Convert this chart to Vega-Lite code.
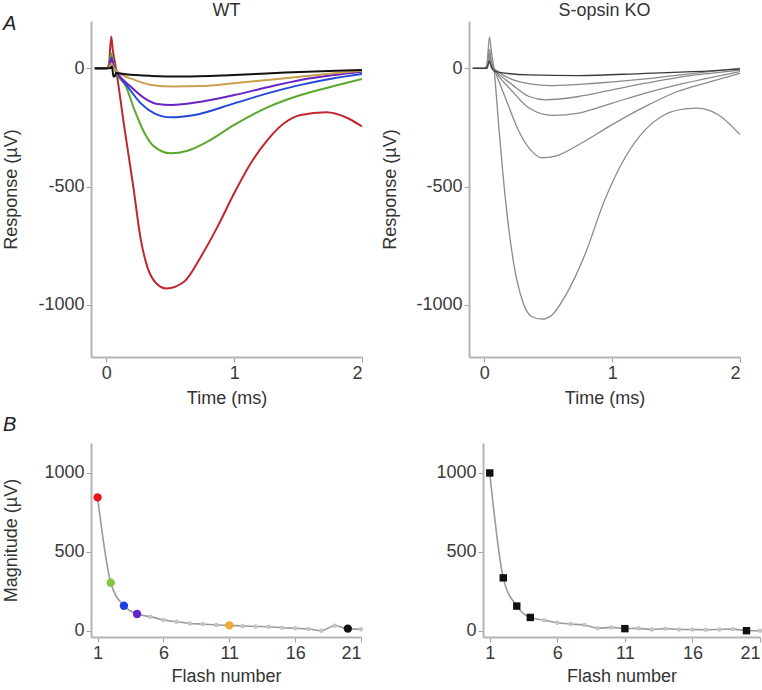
{
  "$schema": "https://vega.github.io/schema/vega-lite/v6.json",
  "padding": {"left": 2, "top": 2, "right": 0, "bottom": 0},
  "config": {
    "font": "Liberation Sans",
    "view": {"stroke": null},
    "axis": {
      "grid": false,
      "domainColor": "#b4b4b4",
      "domainWidth": 2,
      "tickColor": "#a0a0a0",
      "tickSize": 5,
      "tickWidth": 1,
      "labelFontSize": 18,
      "titleFontSize": 18,
      "labelColor": "#3a3a3a",
      "titleColor": "#333333",
      "titleFontWeight": "normal",
      "labelFont": "Liberation Sans",
      "titleFont": "Liberation Sans",
      "labelPadding": 2,
      "labelOverlap": false
    },
    "title": {"fontSize": 18, "fontWeight": "normal", "color": "#333333", "font": "Liberation Sans"}
  },
  "datasets": {
    "a_wt": [
      {"s":"1","t":-0.09,"v":0},{"s":"1","t":0,"v":0},{"s":"1","t":0.02,"v":15},{"s":"1","t":0.038,"v":135},{"s":"1","t":0.05,"v":80},{"s":"1","t":0.075,"v":0},{"s":"1","t":0.14,"v":-246},{"s":"1","t":0.21,"v":-497},{"s":"1","t":0.27,"v":-725},{"s":"1","t":0.32,"v":-838},{"s":"1","t":0.39,"v":-908},{"s":"1","t":0.47,"v":-930},{"s":"1","t":0.61,"v":-901},{"s":"1","t":0.74,"v":-796},{"s":"1","t":0.87,"v":-669},{"s":"1","t":1.0,"v":-528},{"s":"1","t":1.13,"v":-401},{"s":"1","t":1.26,"v":-303},{"s":"1","t":1.39,"v":-232},{"s":"1","t":1.52,"v":-197},{"s":"1","t":1.72,"v":-186},{"s":"1","t":1.89,"v":-211},{"s":"1","t":2.0,"v":-246},
      {"s":"2","t":-0.09,"v":0},{"s":"2","t":0,"v":0},{"s":"2","t":0.02,"v":8},{"s":"2","t":0.04,"v":63},{"s":"2","t":0.055,"v":25},{"s":"2","t":0.075,"v":-14},{"s":"2","t":0.154,"v":-77},{"s":"2","t":0.22,"v":-176},{"s":"2","t":0.3,"v":-275},{"s":"2","t":0.375,"v":-331},{"s":"2","t":0.505,"v":-359},{"s":"2","t":0.635,"v":-348},{"s":"2","t":0.79,"v":-310},{"s":"2","t":1.0,"v":-239},{"s":"2","t":1.26,"v":-165},{"s":"2","t":1.52,"v":-113},{"s":"2","t":1.78,"v":-75},{"s":"2","t":2.0,"v":-45},
      {"s":"3","t":-0.09,"v":0},{"s":"3","t":0,"v":0},{"s":"3","t":0.02,"v":5},{"s":"3","t":0.04,"v":45},{"s":"3","t":0.055,"v":15},{"s":"3","t":0.075,"v":-10},{"s":"3","t":0.167,"v":-77},{"s":"3","t":0.27,"v":-148},{"s":"3","t":0.375,"v":-190},{"s":"3","t":0.505,"v":-207},{"s":"3","t":0.69,"v":-197},{"s":"3","t":1.0,"v":-148},{"s":"3","t":1.26,"v":-106},{"s":"3","t":1.52,"v":-70},{"s":"3","t":1.78,"v":-42},{"s":"3","t":2.0,"v":-24},
      {"s":"4","t":-0.09,"v":0},{"s":"4","t":0,"v":0},{"s":"4","t":0.02,"v":5},{"s":"4","t":0.04,"v":40},{"s":"4","t":0.055,"v":12},{"s":"4","t":0.08,"v":-14},{"s":"4","t":0.19,"v":-77},{"s":"4","t":0.3,"v":-127},{"s":"4","t":0.4,"v":-151},{"s":"4","t":0.505,"v":-155},{"s":"4","t":0.74,"v":-141},{"s":"4","t":1.0,"v":-113},{"s":"4","t":1.26,"v":-80},{"s":"4","t":1.52,"v":-49},{"s":"4","t":1.78,"v":-28},{"s":"4","t":2.0,"v":-14},
      {"s":"11","t":-0.09,"v":0},{"s":"11","t":0,"v":0},{"s":"11","t":0.02,"v":3},{"s":"11","t":0.04,"v":20},{"s":"11","t":0.055,"v":5},{"s":"11","t":0.08,"v":-10},{"s":"11","t":0.22,"v":-49},{"s":"11","t":0.35,"v":-70},{"s":"11","t":0.53,"v":-77},{"s":"11","t":0.74,"v":-75},{"s":"11","t":1.0,"v":-63},{"s":"11","t":1.26,"v":-49},{"s":"11","t":1.52,"v":-35},{"s":"11","t":1.78,"v":-21},{"s":"11","t":2.0,"v":-10},
      {"s":"20","t":-0.09,"v":0},{"s":"20","t":0.03,"v":0},{"s":"20","t":0.045,"v":8},{"s":"20","t":0.055,"v":-35},{"s":"20","t":0.065,"v":-35},{"s":"20","t":0.075,"v":-20},{"s":"20","t":0.15,"v":-25},{"s":"20","t":0.35,"v":-32},{"s":"20","t":0.6,"v":-35},{"s":"20","t":1.0,"v":-28},{"s":"20","t":1.4,"v":-18},{"s":"20","t":1.8,"v":-10},{"s":"20","t":2.0,"v":-7}
    ],
    "a_ko": [
      {"s":"1","t":-0.09,"v":0},{"s":"1","t":0,"v":0},{"s":"1","t":0.02,"v":15},{"s":"1","t":0.04,"v":133},{"s":"1","t":0.055,"v":70},{"s":"1","t":0.075,"v":0},{"s":"1","t":0.114,"v":-252},{"s":"1","t":0.166,"v":-559},{"s":"1","t":0.23,"v":-825},{"s":"1","t":0.296,"v":-979},{"s":"1","t":0.37,"v":-1049},{"s":"1","t":0.45,"v":-1060},{"s":"1","t":0.53,"v":-1042},{"s":"1","t":0.63,"v":-965},{"s":"1","t":0.79,"v":-783},{"s":"1","t":0.94,"v":-559},{"s":"1","t":1.1,"v":-378},{"s":"1","t":1.26,"v":-259},{"s":"1","t":1.41,"v":-196},{"s":"1","t":1.57,"v":-171},{"s":"1","t":1.67,"v":-168},{"s":"1","t":1.83,"v":-196},{"s":"1","t":2.0,"v":-280},
      {"s":"2","t":-0.09,"v":0},{"s":"2","t":0,"v":0},{"s":"2","t":0.02,"v":10},{"s":"2","t":0.04,"v":80},{"s":"2","t":0.055,"v":30},{"s":"2","t":0.075,"v":0},{"s":"2","t":0.166,"v":-126},{"s":"2","t":0.27,"v":-266},{"s":"2","t":0.37,"v":-350},{"s":"2","t":0.45,"v":-378},{"s":"2","t":0.555,"v":-371},{"s":"2","t":0.74,"v":-322},{"s":"2","t":1.0,"v":-238},{"s":"2","t":1.26,"v":-161},{"s":"2","t":1.51,"v":-98},{"s":"2","t":1.77,"v":-56},{"s":"2","t":2.0,"v":-21},
      {"s":"3","t":-0.09,"v":0},{"s":"3","t":0,"v":0},{"s":"3","t":0.02,"v":8},{"s":"3","t":0.04,"v":60},{"s":"3","t":0.055,"v":20},{"s":"3","t":0.09,"v":-14},{"s":"3","t":0.22,"v":-98},{"s":"3","t":0.35,"v":-168},{"s":"3","t":0.53,"v":-199},{"s":"3","t":0.74,"v":-189},{"s":"3","t":1.0,"v":-147},{"s":"3","t":1.26,"v":-105},{"s":"3","t":1.51,"v":-70},{"s":"3","t":1.77,"v":-39},{"s":"3","t":2.0,"v":-14},
      {"s":"4","t":-0.09,"v":0},{"s":"4","t":0,"v":0},{"s":"4","t":0.02,"v":6},{"s":"4","t":0.04,"v":50},{"s":"4","t":0.055,"v":15},{"s":"4","t":0.09,"v":-10},{"s":"4","t":0.22,"v":-70},{"s":"4","t":0.35,"v":-119},{"s":"4","t":0.48,"v":-133},{"s":"4","t":0.74,"v":-119},{"s":"4","t":1.0,"v":-91},{"s":"4","t":1.26,"v":-63},{"s":"4","t":1.51,"v":-39},{"s":"4","t":1.77,"v":-21},{"s":"4","t":2.0,"v":-7},
      {"s":"11","t":-0.09,"v":0},{"s":"11","t":0,"v":0},{"s":"11","t":0.02,"v":5},{"s":"11","t":0.04,"v":40},{"s":"11","t":0.055,"v":10},{"s":"11","t":0.09,"v":-7},{"s":"11","t":0.27,"v":-56},{"s":"11","t":0.53,"v":-73},{"s":"11","t":0.87,"v":-63},{"s":"11","t":1.26,"v":-45},{"s":"11","t":1.64,"v":-21},{"s":"11","t":2.0,"v":0},
      {"s":"20","t":-0.09,"v":0},{"s":"20","t":0.02,"v":0},{"s":"20","t":0.04,"v":30},{"s":"20","t":0.055,"v":5},{"s":"20","t":0.09,"v":-14},{"s":"20","t":0.35,"v":-28},{"s":"20","t":0.74,"v":-31},{"s":"20","t":1.26,"v":-21},{"s":"20","t":1.77,"v":-11},{"s":"20","t":2.0,"v":-3}
    ],
    "b_wt": [
      {"f":1,"m":845,"c":"1"},{"f":2,"m":304,"c":"2"},{"f":3,"m":158,"c":"3"},{"f":4,"m":106,"c":"4"},{"f":5,"m":89},{"f":6,"m":68},{"f":7,"m":57},{"f":8,"m":46},{"f":9,"m":42},{"f":10,"m":36},{"f":11,"m":34,"c":"11"},{"f":12,"m":30},{"f":13,"m":27},{"f":14,"m":25},{"f":15,"m":19},{"f":16,"m":15},{"f":17,"m":11},{"f":18,"m":0},{"f":19,"m":32},{"f":20,"m":13,"c":"20"},{"f":21,"m":9}
    ],
    "b_ko": [
      {"f":1,"m":1000,"c":"1"},{"f":2,"m":335,"c":"2"},{"f":3,"m":156,"c":"3"},{"f":4,"m":84,"c":"4"},{"f":5,"m":67},{"f":6,"m":50},{"f":7,"m":42},{"f":8,"m":36},{"f":9,"m":15},{"f":10,"m":21},{"f":11,"m":13,"c":"11"},{"f":12,"m":15},{"f":13,"m":8},{"f":14,"m":13},{"f":15,"m":8},{"f":16,"m":8},{"f":17,"m":6},{"f":18,"m":8},{"f":19,"m":10},{"f":20,"m":0,"c":"20"},{"f":21,"m":0}
    ]
  },
  "vconcat": [
    {
      "title": {"text": "A", "anchor": "start", "fontStyle": "italic", "fontSize": 20, "offset": -32, "color": "#222222"},
      "spacing": 18,
      "resolve": {"scale": {"color": "independent", "x": "independent", "y": "independent"}},
      "hconcat": [
        {
          "title": {"text": "WT", "offset": 1},
          "width": 271, "height": 336,
          "data": {"name": "a_wt"},
          "mark": {"type": "line", "strokeWidth": 2, "interpolate": "monotone", "clip": true},
          "encoding": {
            "x": {"field": "t", "type": "quantitative", "scale": {"domain": [-0.12, 2], "nice": false, "zero": false}, "axis": {"values": [0, 1, 2], "labelExpr": "'' + datum.value", "title": "Time (ms)", "titlePadding": 7}},
            "y": {"field": "v", "type": "quantitative", "scale": {"domain": [-1220, 200], "nice": false, "zero": false}, "axis": {"values": [-1000, -500, 0], "title": "Response (µV)", "titlePadding": 17, "labelExpr": "'' + datum.value"}},
            "color": {"field": "s", "type": "nominal", "sort": null, "scale": {"domain": ["1", "2", "3", "4", "11", "20"], "range": ["#c0272d", "#5aa82e", "#2348d6", "#6a22c7", "#c9a04e", "#111111"]}, "legend": null}
          }
        },
        {
          "title": {"text": "S-opsin KO", "offset": 1},
          "width": 271, "height": 336,
          "data": {"name": "a_ko"},
          "mark": {"type": "line", "strokeWidth": 1.3, "interpolate": "monotone", "clip": true},
          "encoding": {
            "x": {"field": "t", "type": "quantitative", "scale": {"domain": [-0.12, 2], "nice": false, "zero": false}, "axis": {"values": [0, 1, 2], "labelExpr": "'' + datum.value", "title": "Time (ms)", "titlePadding": 7}},
            "y": {"field": "v", "type": "quantitative", "scale": {"domain": [-1220, 200], "nice": false, "zero": false}, "axis": {"values": [-1000, -500, 0], "title": "Response (µV)", "titlePadding": 16, "labelExpr": "'' + datum.value"}},
            "color": {"field": "s", "type": "nominal", "sort": null, "scale": {"domain": ["1", "2", "3", "4", "11", "20"], "range": ["#8a8a8a", "#8a8a8a", "#8a8a8a", "#8a8a8a", "#8a8a8a", "#3a3a3a"]}, "legend": null}
          }
        }
      ]
    },
    {
      "title": {"text": "B", "anchor": "start", "fontStyle": "italic", "fontSize": 20, "offset": 8, "color": "#222222"},
      "spacing": 70,
      "resolve": {"scale": {"color": "independent", "x": "independent", "y": "independent"}},
      "hconcat": [
        {
          "width": 270, "height": 194,
          "data": {"name": "b_wt"},
          "encoding": {
            "x": {"field": "f", "type": "quantitative", "scale": {"domain": [0.5, 21], "nice": false, "zero": false}, "axis": {"values": [1, 6, 11, 16, 21], "title": "Flash number", "titlePadding": 5}},
            "y": {"field": "m", "type": "quantitative", "scale": {"domain": [-40, 1190], "nice": false, "zero": false}, "axis": {"values": [0, 500, 1000], "title": "Magnitude (µV)", "titlePadding": 23, "format": "d"}}
          },
          "layer": [
            {"mark": {"type": "line", "color": "#9a9a9a", "strokeWidth": 1.6, "interpolate": "monotone"}},
            {"transform": [{"filter": "!isValid(datum.c)"}], "mark": {"type": "circle", "color": "#c4c4c4", "size": 20, "opacity": 1}},
            {"transform": [{"filter": "isValid(datum.c)"}], "mark": {"type": "circle", "size": 70, "opacity": 1},
             "encoding": {"color": {"field": "c", "type": "nominal", "sort": null, "scale": {"domain": ["1", "2", "3", "4", "11", "20"], "range": ["#e8141b", "#86c441", "#1e3ee6", "#6124c9", "#f2a93b", "#111111"]}, "legend": null}}}
          ]
        },
        {
          "width": 277, "height": 194,
          "data": {"name": "b_ko"},
          "encoding": {
            "x": {"field": "f", "type": "quantitative", "scale": {"domain": [0.5, 21], "nice": false, "zero": false}, "axis": {"values": [1, 6, 11, 16, 21], "title": "Flash number", "titlePadding": 5}},
            "y": {"field": "m", "type": "quantitative", "scale": {"domain": [-40, 1190], "nice": false, "zero": false}, "axis": {"values": [0, 500, 1000], "title": null, "format": "d"}}
          },
          "layer": [
            {"mark": {"type": "line", "color": "#9a9a9a", "strokeWidth": 1.6, "interpolate": "monotone"}},
            {"transform": [{"filter": "!isValid(datum.c)"}], "mark": {"type": "circle", "color": "#c4c4c4", "size": 20, "opacity": 1}},
            {"transform": [{"filter": "isValid(datum.c)"}], "mark": {"type": "square", "color": "#111111", "size": 55, "opacity": 1}}
          ]
        }
      ]
    }
  ],
  "spacing": 8,
  "resolve": {"scale": {"color": "independent", "x": "independent", "y": "independent"}}
}
